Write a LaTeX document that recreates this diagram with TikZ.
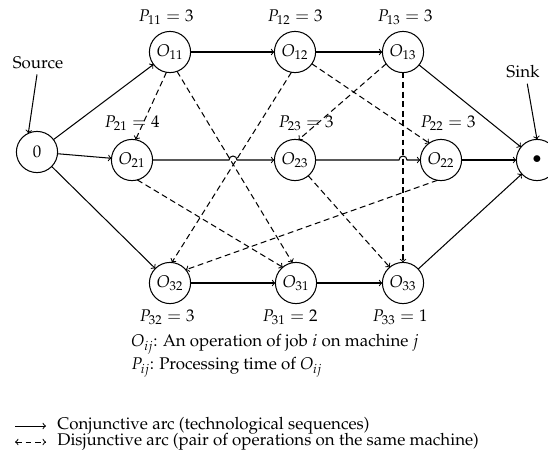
\documentclass[tikz,border=0pt]{standalone}
\usepackage{amsmath, amssymb}
\usepackage[T1]{fontenc}
\usepackage{mathpazo}
\usepackage{tkz-graph}
\usetikzlibrary{arrows}
\usetikzlibrary{shapes}

\begin{document}
\begin{tikzpicture}[x = 0.68pt, y = -0.68pt, >=to, line width = 0.7pt, font = \fontsize{11.5}{13.5}\selectfont]
	\SetUpEdge[lw = 0.7pt, color = black]
	\tikzstyle{VertexStyle} = []
	\tikzstyle{EdgeStyle} = [->]
	\tikzstyle{opStyle}=[shape = circle, minimum size = 28pt, inner sep = 1pt, line width = 0.7pt, draw]
	\tikzstyle{disjStyle}=[<->, dash pattern = on 4pt off 2.5pt]
	\useasboundingbox (0,0) rectangle (548,461);
	% source, sink and operations
	\Vertex[style = opStyle, x = 37, y = 152, L = {$0$}]{v0}
	\Vertex[style = opStyle, x = 537, y = 160, L = {$\bullet$}]{sink}
	\Vertex[style = opStyle, x = 170, y = 52, L = {$O_{11}$}]{O11}
	\Vertex[style = opStyle, x = 295, y = 52, L = {$O_{12}$}]{O12}
	\Vertex[style = opStyle, x = 403, y = 52, L = {$O_{13}$}]{O13}
	\Vertex[style = opStyle, x = 132, y = 160, L = {$O_{21}$}]{O21}
	\Vertex[style = opStyle, x = 295, y = 160, L = {$O_{23}$}]{O23}
	\Vertex[style = opStyle, x = 441, y = 160, L = {$O_{22}$}]{O22}
	\Vertex[style = opStyle, x = 170, y = 283, L = {$O_{32}$}]{O32}
	\Vertex[style = opStyle, x = 296, y = 283, L = {$O_{31}$}]{O31}
	\Vertex[style = opStyle, x = 403, y = 283, L = {$O_{33}$}]{O33}
	% processing times
	\node (p11) at (166,17) {$P_{11} = 3$};
	\node (p12) at (295,17) {$P_{12} = 3$};
	\node (p13) at (405,17) {$P_{13} = 3$};
	\node (p21) at (132,123) {$P_{21} = 4$};
	\node (p23) at (306,123) {$P_{23} = 3$};
	\node (p22) at (448,123) {$P_{22} = 3$};
	\node (p32) at (167,317) {$P_{32} = 3$};
	\node (p31) at (290,317) {$P_{31} = 2$};
	\node (p33) at (400,317) {$P_{33} = 1$};
	\node (src) at (38,63) {Source};
	\node (snk) at (523,72) {Sink};
	\draw[->] (src.-95) -- (v0.115);
	\draw[->] (snk.-70) -- (sink.90);
	% conjunctive arcs
	\Edge(v0)(O11)
	\Edge(v0)(O21)
	\Edge(v0)(O32)
	\Edge(O11)(O12)
	\Edge(O12)(O13)
	\Edge(O13)(sink)
	\Edge(O22)(sink)
	\Edge(O32)(O31)
	\Edge(O31)(O33)
	\Edge(O33)(sink)
	\coordinate (hop1) at (229,160);
	\coordinate (hop2) at (399,160);
	\draw[->] (O21) -- (hop1) arc[start angle = 180, end angle = 360, radius = 4] -- (O23);
	\draw[->] (O23) -- (hop2) arc[start angle = 180, end angle = 360, radius = 4] -- (O22);
	% disjunctive arcs
	\Edge[style = disjStyle](O11.-100)(O21.80)
	\Edge[style = disjStyle](O11.-70)(O31.100)
	\Edge[style = disjStyle](O21.-75)(O31.130)
	\Edge[style = disjStyle](O12.-35)(O22.125)
	\Edge[style = disjStyle](O12.-100)(O32.85)
	\Edge[style = disjStyle](O22.-100)(O32.40)
	\Edge[style = disjStyle](O13.215)(O23.80)
	\Edge[style = disjStyle](O13)(O33)
	\Edge[style = disjStyle](O23.-50)(O33.130)
	% notation and legend
	\node[anchor = west] (defO) at (126,344) {$O_{ij}$: An operation of job $i$ on machine $j$};
	\node[anchor = west] (defP) at (126,367) {$P_{ij}$: Processing time of $O_{ij}$};
	\coordinate (c1) at (15,426);
	\coordinate (c2) at (46,426);
	\coordinate (d1) at (15,442);
	\coordinate (d2) at (46,442);
	\draw[->] (c1) -- (c2);
	\draw[disjStyle] (d1) -- (d2);
	\node[anchor = west] (legC) at (52,426) {Conjunctive arc (technological sequences)};
	\node[anchor = west] (legD) at (52,442) {Disjunctive arc (pair of operations on the same machine)};
\end{tikzpicture}
\end{document}
